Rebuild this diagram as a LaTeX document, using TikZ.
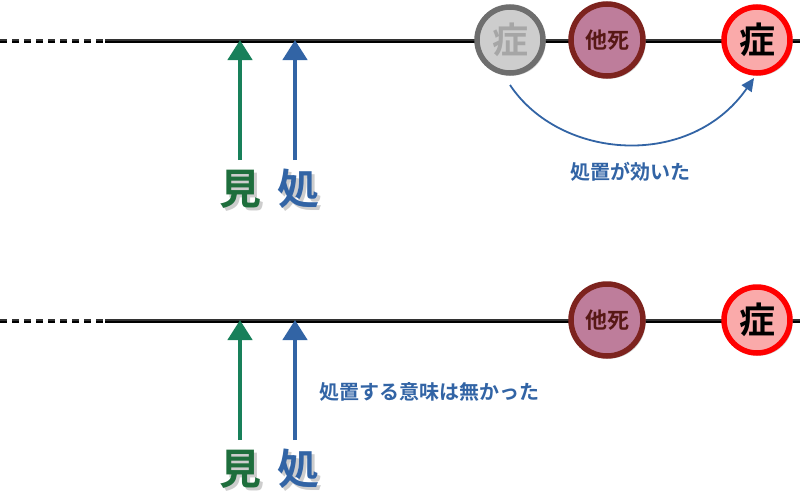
\documentclass[tikz,border=0pt]{standalone}
\usepackage{fontspec}
\newfontfamily\cjk{Noto Sans CJK JP Bold}
\usetikzlibrary{shadows,arrows.meta}
\definecolor{mgreen}{RGB}{24,128,90}
\definecolor{lgreen}{RGB}{30,110,60}
\definecolor{mblue}{RGB}{50,100,165}
\definecolor{grayring}{RGB}{110,110,110}
\definecolor{grayfill}{RGB}{205,205,205}
\definecolor{darkred}{RGB}{125,35,30}
\definecolor{plum}{RGB}{190,125,155}
\definecolor{pinkfill}{RGB}{250,170,170}
\definecolor{shade}{RGB}{205,205,205}
\tikzset{
  ev/.style={circle, minimum size=66pt, line width=5.5pt, inner sep=0pt,
    font=\cjk\fontsize{36}{36}\selectfont,
    drop shadow={shadow xshift=2.5pt, shadow yshift=-2.5pt, fill=shade, opacity=1}},
  old/.style={ev, draw=grayring, fill=grayfill, text=black!35},
  other/.style={ev, draw=darkred, fill=plum, minimum size=72pt,
    font=\cjk\fontsize{22}{22}\selectfont, text=darkred!70!black},
  sym/.style={ev, draw=red, fill=pinkfill, text=black},
  up/.style={line width=4.5pt, -{Triangle[length=20pt,width=24pt]}},
  big/.style={font=\cjk\fontsize{42}{42}\selectfont},
  note/.style={font=\cjk\fontsize{20}{20}\selectfont, text=mblue},
  tl/.style={line width=2.5pt, line cap=butt}
}
\begin{document}
\begin{tikzpicture}[x=1pt,y=-1pt]
\useasboundingbox (0,0) rectangle (800,498);
% timelines
\foreach \y/\n in {40/a,320/b}{
  \coordinate (l\n0) at (0,\y);
  \coordinate (l\n1) at (105,\y);
  \coordinate (l\n2) at (800,\y);
  \draw[tl, shade, dash pattern=on 7pt off 5pt] ([yshift=-2.2pt]l\n0) -- ([yshift=-2.2pt]l\n1);
  \draw[tl, shade] ([yshift=-2.2pt]l\n1) -- ([yshift=-2.2pt]l\n2);
  \draw[tl, black!80, dash pattern=on 7pt off 5pt] (l\n0) -- (l\n1);
  \draw[tl, black!80] (l\n1) -- (l\n2);
}
\node (s0) at (510,40) [old] {症};
\node (d1) at (607,40) [other] {他死};
\node (s1) at (757,40) [sym] {症};
\node (d2) at (607,320) [other] {他死};
\node (s2) at (757,320) [sym] {症};
% labels
\foreach \y/\n in {192/a,472/b}{
  \node (k\n) at (243,\y) [big, text=shade] {見};
  \node (h\n) at (301,\y) [big, text=shade] {処};
  \node (m\n) at (240,\y-3) [big, text=lgreen] {見};
  \node (t\n) at (298,\y-3) [big, text=mblue] {処};
}
\coordinate (mat) at (240,40);
\coordinate (tat) at (295,40);
\coordinate (mbt) at (240,320);
\coordinate (tbt) at (295,320);
\draw[up, mgreen] (240,160) -- (mat);
\draw[up, mblue] (295,160) -- (tat);
\draw[up, mgreen] (240,440) -- (mbt);
\draw[up, mblue] (295,440) -- (tbt);
% effect
\coordinate (c0) at (510,85);
\coordinate (c1) at (754,78);
\draw[mblue, line width=1.8pt, -{Triangle[length=13pt,width=12pt]}]
  (c0) .. controls (560,160) and (690,170) .. (c1);
\node (n1) at (630,172) [note] {処置が効いた};
\node (n2) at (316,392) [note, anchor=west] {処置する意味は無かった};
\end{tikzpicture}
\end{document}
